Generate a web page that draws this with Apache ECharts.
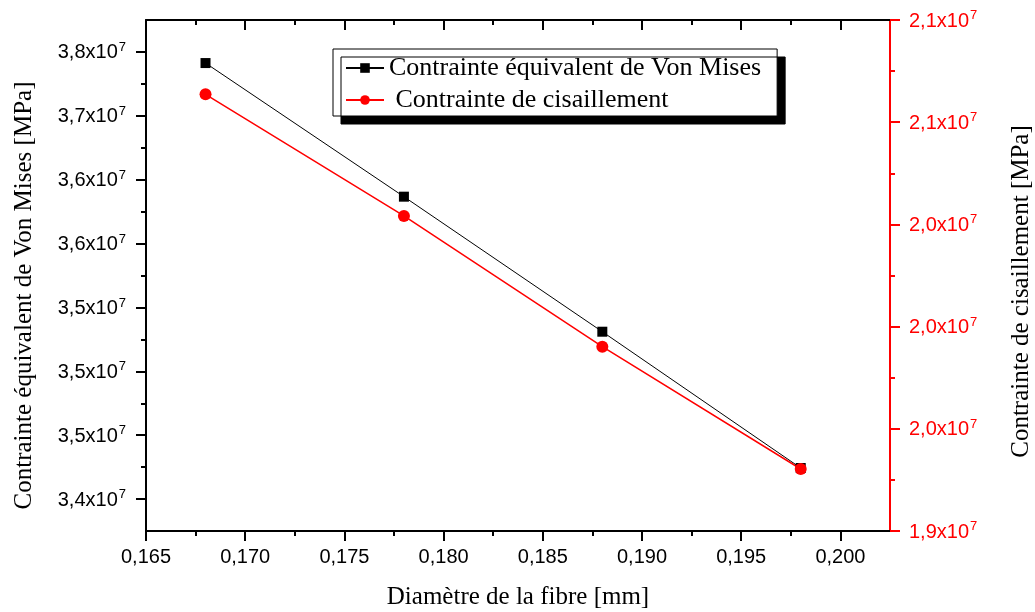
<!DOCTYPE html>
<html>
<head>
<meta charset="utf-8">
<title>Contraintes vs diamètre de la fibre</title>
<script src="https://cdn.jsdelivr.net/npm/echarts@6/dist/echarts.min.js"></script>
<style>
  html, body { margin: 0; padding: 0; background: #fff; }
  #chart { width: 1035px; height: 612px; }
</style>
</head>
<body>
<div id="chart"></div>
<script>
// data (stresses in Pa, diameter in mm)
const diameters = [0.168, 0.178, 0.188, 0.198];
const vonMises = [3.7413e7, 3.6367e7, 3.5310e7, 3.4243e7];
const cisaillement = [2.0782e7, 2.0425e7, 2.0041e7, 1.9682e7];
const seriesNames = ['Contrainte équivalent de Von Mises', 'Contrainte de cisaillement'];

// tick values and labels
const xMajor = [0.165, 0.170, 0.175, 0.180, 0.185, 0.190, 0.195, 0.200];
const xLabels = ['0,165', '0,170', '0,175', '0,180', '0,185', '0,190', '0,195', '0,200'];
const xMinor = [0.1675, 0.1725, 0.1775, 0.1825, 0.1875, 0.1925, 0.1975];
const leftMajor = [3.40e7, 3.45e7, 3.50e7, 3.55e7, 3.60e7, 3.65e7, 3.70e7, 3.75e7];
const leftLabels = ['3,4', '3,5', '3,5', '3,5', '3,6', '3,6', '3,7', '3,8'];
const leftMinor = [3.425e7, 3.475e7, 3.525e7, 3.575e7, 3.625e7, 3.675e7, 3.725e7];
const rightMajor = [1.95e7, 1.98e7, 2.01e7, 2.04e7, 2.07e7, 2.10e7];
const rightLabels = ['1,9', '2,0', '2,0', '2,0', '2,1', '2,1'];
const rightMinor = [1.965e7, 1.995e7, 2.025e7, 2.055e7, 2.085e7];

const chart = echarts.init(document.getElementById('chart'));

const SANS = '"Liberation Sans", Arial, sans-serif';
const SERIF = '"Liberation Serif", "Times New Roman", serif';
const RED = '#ff0000';

const pickLabel = (values, labels, v) => {
  const i = values.findIndex(t => Math.abs(t - v) < Math.abs(t) * 1e-6 + 1e-12);
  return i < 0 ? '' : labels[i];
};

const sciRich = (color) => ({
  n: { fontSize: 20, fontFamily: SANS, color: color, lineHeight: 22, verticalAlign: 'bottom' },
  s: { fontSize: 13, fontFamily: SANS, color: color, lineHeight: 22, verticalAlign: 'top', padding: [0, 0, 0, 1] }
});

const hidden = { show: false };

const option = {
  animation: false,
  backgroundColor: '#fff',
  grid: { left: 146, right: 145, top: 20, bottom: 81, containLabel: false, outerBoundsMode: 'none' },
  legend: {
    data: seriesNames,
    orient: 'vertical',
    left: 333,
    top: 49,
    itemWidth: 38,
    itemHeight: 12,
    itemGap: 6,
    padding: [6, 16, 3, 12],
    backgroundColor: '#fff',
    borderColor: '#000',
    borderWidth: 1,
    shadowColor: '#000',
    shadowBlur: 0,
    shadowOffsetX: 8,
    shadowOffsetY: 8,
    formatter: name => (name === seriesNames[1] ? ' ' + name : name),
    textStyle: { fontFamily: SERIF, fontSize: 26, color: '#000' }
  },
  xAxis: [
    {
      type: 'value',
      position: 'bottom',
      min: 0.165,
      max: 0.2025,
      name: 'Diamètre de la fibre [mm]',
      nameLocation: 'middle',
      nameGap: 54,
      nameTextStyle: { fontFamily: SERIF, fontSize: 25, color: '#000' },
      axisLine: { lineStyle: { color: '#000', width: 2 } },
      axisTick: { customValues: xMajor, length: 10, lineStyle: { width: 2, color: '#000' } },
      axisLabel: {
        customValues: xMajor,
        margin: 16,
        fontFamily: SANS,
        fontSize: 20,
        color: '#000',
        formatter: v => pickLabel(xMajor, xLabels, v)
      },
      splitLine: hidden
    },
    {
      // minor ticks, bottom
      type: 'value',
      position: 'bottom',
      min: 0.165,
      max: 0.2025,
      axisLine: hidden,
      axisTick: { customValues: xMinor, length: 5, lineStyle: { width: 2, color: '#000' } },
      axisLabel: hidden,
      splitLine: hidden
    },
    {
      // top frame
      type: 'value',
      position: 'top',
      min: 0.165,
      max: 0.2025,
      axisLine: { lineStyle: { color: '#000', width: 2 } },
      axisTick: { inside: true, customValues: xMajor, length: 10, lineStyle: { width: 2, color: '#000' } },
      axisLabel: hidden,
      splitLine: hidden
    },
    {
      type: 'value',
      position: 'top',
      min: 0.165,
      max: 0.2025,
      axisLine: hidden,
      axisTick: { inside: true, customValues: xMinor, length: 5, lineStyle: { width: 2, color: '#000' } },
      axisLabel: hidden,
      splitLine: hidden
    }
  ],
  yAxis: [
    {
      type: 'value',
      position: 'left',
      min: 3.375e7,
      max: 3.775e7,
      name: 'Contrainte équivalent de Von Mises [MPa]',
      nameLocation: 'middle',
      nameRotate: 90,
      nameGap: 109,
      nameTextStyle: { fontFamily: SERIF, fontSize: 25, color: '#000', padding: [0, 40, 0, 0] },
      axisLine: { lineStyle: { color: '#000', width: 2 } },
      axisTick: { customValues: leftMajor, length: 10, lineStyle: { width: 2, color: '#000' } },
      axisLabel: {
        customValues: leftMajor,
        margin: 20,
        formatter: v => '{n|' + pickLabel(leftMajor, leftLabels, v) + 'x10}{s|7}',
        rich: sciRich('#000')
      },
      splitLine: hidden
    },
    {
      type: 'value',
      position: 'right',
      min: 1.95e7,
      max: 2.10e7,
      name: 'Contrainte de cisaillement [MPa]',
      nameLocation: 'middle',
      nameRotate: 90,
      nameGap: 119,
      nameTextStyle: { fontFamily: SERIF, fontSize: 25, color: '#000', padding: [0, 32, 0, 0] },
      axisLine: { lineStyle: { color: RED, width: 2 } },
      axisTick: { customValues: rightMajor, length: 10, lineStyle: { width: 2, color: RED } },
      axisLabel: {
        customValues: rightMajor,
        margin: 19,
        formatter: v => '{n|' + pickLabel(rightMajor, rightLabels, v) + 'x10}{s|7}',
        rich: sciRich(RED)
      },
      splitLine: hidden
    },
    {
      // minor ticks, left
      type: 'value',
      position: 'left',
      min: 3.375e7,
      max: 3.775e7,
      axisLine: hidden,
      axisTick: { customValues: leftMinor, length: 5, lineStyle: { width: 2, color: '#000' } },
      axisLabel: hidden,
      splitLine: hidden
    },
    {
      // minor ticks, right
      type: 'value',
      position: 'right',
      min: 1.95e7,
      max: 2.10e7,
      axisLine: hidden,
      axisTick: { customValues: rightMinor, length: 5, lineStyle: { width: 2, color: RED } },
      axisLabel: hidden,
      splitLine: hidden
    }
  ],
  series: [
    {
      name: seriesNames[0],
      type: 'line',
      xAxisIndex: 0,
      yAxisIndex: 0,
      data: diameters.map((d, i) => [d, vonMises[i]]),
      symbol: 'rect',
      symbolSize: 10,
      itemStyle: { color: '#000' },
      lineStyle: { color: '#000', width: 1 }
    },
    {
      name: seriesNames[1],
      type: 'line',
      xAxisIndex: 0,
      yAxisIndex: 1,
      data: diameters.map((d, i) => [d, cisaillement[i]]),
      symbol: 'circle',
      symbolSize: 12,
      itemStyle: { color: RED },
      lineStyle: { color: RED, width: 1.5 }
    }
  ]
};

chart.setOption(option);
</script>
</body>
</html>
